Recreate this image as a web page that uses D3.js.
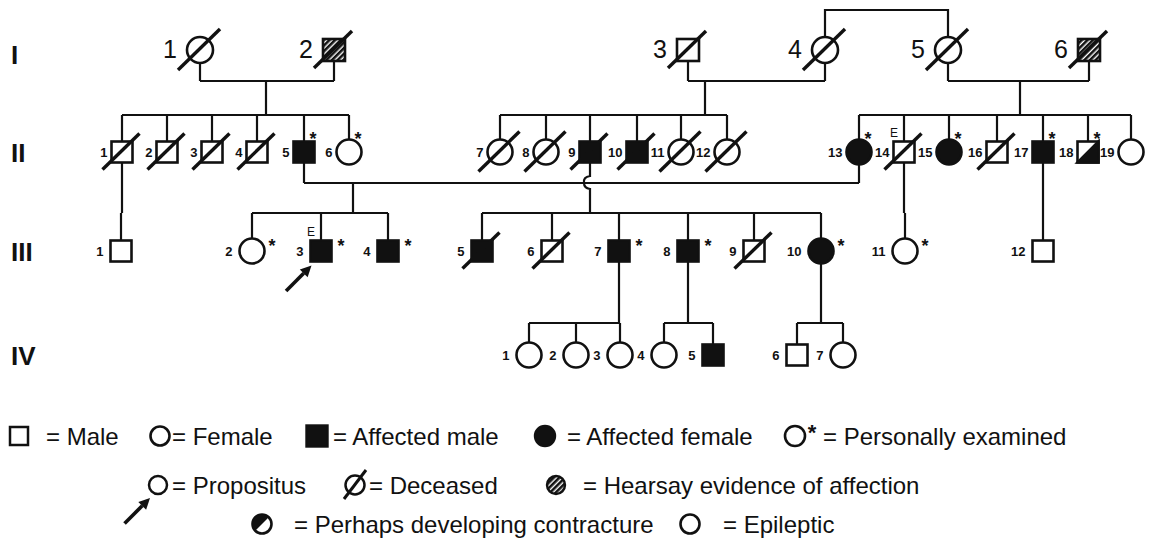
<!DOCTYPE html>
<html><head><meta charset="utf-8">
<script src="https://cdn.jsdelivr.net/npm/d3@7"></script>
<style>body{margin:0;background:#fff}svg{display:block}</style>
</head><body>
<svg id="c" width="1149" height="541"></svg>
<script>
// ---------- DATA ----------
const generations = ["I", "II", "III", "IV"];
// [number, horizontal slot, sex, flags]  flags: d=deceased a=affected h=hearsay p=partial *=examined E=epileptic >=propositus
const genI = [["1",200,"F","d"],["2",334,"M","dh"],["3",688,"M","d"],["4",825,"F","d"],["5",948,"F","d"],["6",1089,"M","dh"]];
const genII = [["1",122,"M","d"],["2",167,"M","d"],["3",212,"M","d"],["4",257,"M","d"],["5",304,"M","a*"],["6",349,"F","*"],
  ["7",500,"F","d"],["8",546,"F","d"],["9",590,"M","ad"],["10",637,"M","ad"],["11",681,"F","d"],["12",727,"F","d"],
  ["13",859,"F","a*"],["14",904,"M","dE"],["15",949,"F","a*"],["16",997,"M","d"],["17",1043,"M","a*"],["18",1088,"M","p*"],["19",1131,"F",""]];
const genIII = [["1",121,"M",""],["2",252,"F","*"],["3",321,"M","a*E>"],["4",388,"M","a*"],["5",482,"M","ad"],["6",552,"M","d"],
  ["7",619,"M","a*"],["8",688,"M","a*"],["9",754,"M","d"],["10",821,"F","a*"],["11",905,"F","*"],["12",1043,"M",""]];
const genIV = [["1",529,"F",""],["2",576,"F",""],["3",620,"F",""],["4",664,"F",""],["5",713,"M","a"],["6",797,"M",""],["7",843,"F",""]];
// families: parents -> children (drop = where the descent line leaves the couple line)
const families = [
  {parents:["I-1","I-2"], drop:266, children:["II-1","II-2","II-3","II-4","II-5","II-6"]},
  {parents:["I-3","I-4"], drop:705, children:["II-7","II-8","II-9","II-10","II-11","II-12"]},
  {parents:["I-5","I-6"], drop:1020, children:["II-13","II-14","II-15","II-16","II-17","II-18","II-19"]},
  {parents:["II-5","II-13"], drop:353, children:["III-2","III-3","III-4"]},
  {parents:["II-9"], hop:true, children:["III-5","III-6","III-7","III-8","III-9","III-10"]},
  {parents:["II-1"], children:["III-1"]},
  {parents:["II-14"], children:["III-11"]},
  {parents:["II-17"], children:["III-12"]},
  {parents:["III-7"], children:["IV-1","IV-2","IV-3"]},
  {parents:["III-8"], children:["IV-4","IV-5"]},
  {parents:["III-10"], children:["IV-6","IV-7"]}
];
const topLinks = [["I-4","I-5"]];
const legendRow1 = [["sq","= Male"],["ci","= Female"],["sqA","= Affected male"],["ciA","= Affected female"],["ciS","= Personally examined"]];
const legendRow2 = [["ciR","= Propositus"],["ciD","= Deceased"],["ciH","= Hearsay evidence of affection"]];
const legendRow3 = [["ciP","= Perhaps developing contracture"],["ci","= Epileptic"]];

// ---------- LAYOUT ----------
const W = 1149, H = 541;
const svg = d3.select("#c");
const FONT = "'Liberation Sans', Arial, Helvetica, sans-serif";
const x = d3.scaleLinear().domain([0, W]).range([0, W]);
const y = d3.scaleOrdinal().domain(generations).range([50, 152, 251, 355]);
const sibOff = {II: 37, III: 38, IV: 32};
const H_SQ = 10.5, R_CI = 12.5;

const people = new Map();
[genI, genII, genIII, genIV].forEach((g, gi) => {
  const gen = generations[gi];
  g.forEach(([n, px, sex, f]) => {
    people.set(gen + "-" + n, {gen, n, cx: x(px), cy: y(gen), sex, f,
      half: sex === "M" ? (gi === 0 ? 11 : H_SQ) : (gi === 0 ? 13 : R_CI)});
  });
});

const defs = svg.append("defs");
const pat = defs.append("pattern").attr("id", "hatch").attr("patternUnits", "userSpaceOnUse")
  .attr("width", 4).attr("height", 4).attr("patternTransform", "rotate(45)");
pat.append("rect").attr("width", 4).attr("height", 4).attr("fill", "#fff");
pat.append("rect").attr("width", 2.6).attr("height", 4).attr("fill", "#111");

const gl = svg.append("g").attr("fill", "none").attr("stroke", "#111").attr("stroke-width", 2.2);
const botY = p => p.cy + p.half;
const topY = p => p.cy - p.half;

families.forEach(fm => {
  const ps = fm.parents.map(id => people.get(id));
  const cs = fm.children.map(id => people.get(id));
  const sibY = cs[0].cy - sibOff[cs[0].gen];
  let dropX, startY;
  if (ps.length === 2) {
    const my = ps[0].cy + 31;
    ps.forEach(p => gl.append("line").attr("x1", p.cx).attr("x2", p.cx).attr("y1", botY(p)).attr("y2", my));
    gl.append("line").attr("x1", ps[0].cx).attr("x2", ps[1].cx).attr("y1", my).attr("y2", my);
    dropX = x(fm.drop); startY = my;
    gl.append("line").attr("x1", dropX).attr("x2", dropX).attr("y1", startY).attr("y2", sibY);
  } else {
    dropX = ps[0].cx; startY = botY(ps[0]);
    if (fm.hop) {
      const hy = ps[0].cy + 31;
      gl.append("path").attr("d", `M${dropX},${startY} V${hy - 7} Q${dropX - 7},${hy - 6} ${dropX - 6},${hy} Q${dropX - 6},${hy + 5} ${dropX},${hy + 6} V${sibY}`);
    } else {
      gl.append("line").attr("x1", dropX).attr("x2", dropX).attr("y1", startY).attr("y2", sibY);
    }
  }
  const xs = cs.map(c => c.cx).concat([dropX]);
  gl.append("line").attr("x1", d3.min(xs)).attr("x2", d3.max(xs)).attr("y1", sibY).attr("y2", sibY);
  cs.forEach(c => gl.append("line").attr("x1", c.cx).attr("x2", c.cx).attr("y1", sibY).attr("y2", topY(c)));
});
topLinks.forEach(([a, b]) => {
  const pa = people.get(a), pb = people.get(b);
  gl.append("path").attr("d", `M${pa.cx},${topY(pa)} V10 H${pb.cx} V${topY(pb)}`);
});

// ---------- SYMBOLS ----------
const gs = svg.append("g");
function drawSymbol(g, cx, cy, sex, half, f, sw) {
  const fill = f.includes("a") ? "#111" : f.includes("h") ? "url(#hatch)" : "#fff";
  if (sex === "M") {
    g.append("rect").attr("x", cx - half).attr("y", cy - half).attr("width", 2 * half).attr("height", 2 * half)
      .attr("fill", fill).attr("stroke", "#111").attr("stroke-width", sw);
    if (f.includes("p")) {
      g.append("path").attr("d", `M${cx - half},${cy + half} L${cx + half},${cy + half} L${cx + half},${cy - half} Z`)
        .attr("fill", "#111").attr("stroke", "#111").attr("stroke-width", sw);
    }
  } else {
    g.append("circle").attr("cx", cx).attr("cy", cy).attr("r", half)
      .attr("fill", fill).attr("stroke", "#111").attr("stroke-width", sw);
    if (f.includes("p")) {
      const k = half * 0.7071;
      g.append("path").attr("d", `M${cx - k},${cy + k} A${half},${half} 0 0 1 ${cx + k},${cy - k} Z`)
        .attr("fill", "#111");
    }
  }
  if (f.includes("d")) {
    g.append("line").attr("x1", cx - half - 9).attr("y1", cy + half + 7).attr("x2", cx + half + 7).attr("y2", cy - half - 8)
      .attr("stroke", "#111").attr("stroke-width", 3.4);
  }
}
function arrow(g, tx, ty, len) {
  const ux = Math.cos(-Math.PI / 4), uy = Math.sin(-Math.PI / 4);
  const sx = tx - len * ux, sy = ty - len * uy;
  const hl = 11, hw = 5.5;
  const bx = tx - hl * ux, by = ty - hl * uy;
  g.append("line").attr("x1", sx).attr("y1", sy).attr("x2", bx).attr("y2", by).attr("stroke", "#111").attr("stroke-width", 3.6);
  g.append("path").attr("d", `M${tx},${ty} L${bx + hw * uy},${by - hw * ux} L${bx - hw * uy},${by + hw * ux} Z`).attr("fill", "#111");
}

people.forEach(p => {
  drawSymbol(gs, p.cx, p.cy, p.sex, p.half, p.f, 2.6);
  const isI = p.gen === "I";
  const gap = isI ? 10 : p.gen === "II" ? 4 : 7;
  gs.append("text").attr("x", p.cx - p.half - gap).attr("y", p.cy + (isI ? 8 : 5))
    .attr("text-anchor", "end").attr("font-family", FONT)
    .attr("font-size", isI ? 25 : 13).attr("font-weight", isI ? "normal" : "bold").attr("fill", "#111").text(p.n);
  if (p.f.includes("*")) {
    const dx = p.gen === "II" ? 9 : 20, dy = p.gen === "II" ? -17 : -9;
    gs.append("text").attr("x", p.cx + dx).attr("y", p.cy + dy + 10).attr("text-anchor", "middle")
      .attr("font-family", FONT).attr("font-size", 18).attr("font-weight", "bold").attr("fill", "#111").text("*");
  }
  if (p.f.includes("E")) {
    gs.append("text").attr("x", p.cx - 10).attr("y", p.cy - 15).attr("text-anchor", "middle")
      .attr("font-family", FONT).attr("font-size", 12).attr("fill", "#111").text("E");
  }
  if (p.f.includes(">")) arrow(gs, p.cx - p.half + 1, p.cy + p.half + 4, 36);
});

// generation labels
svg.append("g").selectAll("text").data(generations).join("text")
  .attr("x", 11).attr("y", d => y(d) + (d === "I" ? 14 : 10)).attr("font-family", FONT).attr("font-size", 26).attr("font-weight", "bold")
  .attr("fill", "#111").text(d => d);

// ---------- LEGEND ----------
const lg = svg.append("g");
const legendY = [436, 485, 524];
const legendPos = [
  [[19, 46], [160, 172], [317, 333], [545, 567], [795, 823]],
  [[158, 172], [355, 369], [556, 583]],
  [[262, 294], [690, 723]]
];
[legendRow1, legendRow2, legendRow3].forEach((row, ri) => {
  const cy = legendY[ri];
  row.forEach(([sym, label], i) => {
    const [sx, tx] = legendPos[ri][i];
    if (sym === "sq") drawSymbol(lg, sx, cy, "M", 9, "", 2.5);
    else if (sym === "sqA") drawSymbol(lg, sx, cy, "M", 10.5, "a", 2.4);
    else if (sym === "ci") drawSymbol(lg, sx, cy, "F", 9.5, "", 2.6);
    else if (sym === "ciA") drawSymbol(lg, sx, cy, "F", 10, "a", 2.4);
    else if (sym === "ciH") drawSymbol(lg, sx, cy, "F", 9, "h", 2.4);
    else if (sym === "ciP") drawSymbol(lg, sx, cy, "F", 9.5, "p", 2.6);
    else if (sym === "ciS") {
      drawSymbol(lg, sx, cy, "F", 10, "", 2.6);
      lg.append("text").attr("x", sx + 17).attr("y", cy + 4).attr("text-anchor", "middle")
        .attr("font-family", FONT).attr("font-size", 22).attr("font-weight", "bold").attr("fill", "#111").text("*");
    } else if (sym === "ciR") {
      drawSymbol(lg, sx, cy, "F", 9, "", 2.5);
      arrow(lg, sx - 8, cy + 13, 36);
    } else if (sym === "ciD") {
      lg.append("circle").attr("cx", sx).attr("cy", cy).attr("r", 9.5).attr("fill", "#fff").attr("stroke", "#111").attr("stroke-width", 2.5);
      lg.append("line").attr("x1", sx - 11).attr("y1", cy + 14).attr("x2", sx + 11).attr("y2", cy - 15).attr("stroke", "#111").attr("stroke-width", 3);
    }
    lg.append("text").attr("x", tx).attr("y", cy + 8.5).attr("font-family", FONT).attr("font-size", 24)
      .attr("fill", "#111").text(label);
  });
});
</script>
</body></html>
